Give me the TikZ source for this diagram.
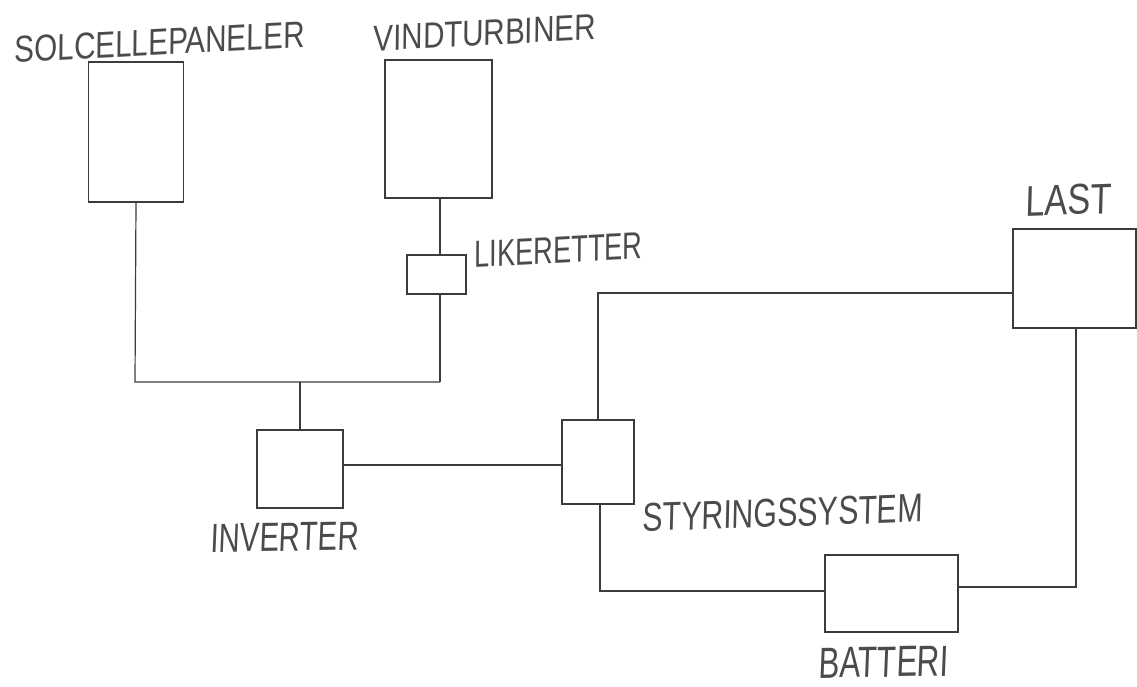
\documentclass[tikz,border=0pt]{standalone}
\usepackage{fontspec}
\setmainfont{Liberation Sans}
\newfontfamily\handfont{Liberation Sans}[FakeSlant=0.08]
\usepackage{graphicx}
\definecolor{ink}{RGB}{60,60,60}
\definecolor{pencil}{RGB}{75,75,75}
\tikzset{
  box/.style={draw=ink, line width=1.4pt, rectangle, inner sep=0pt},
  wire/.style={draw=ink, line width=1.2pt},
  lbl/.style={text=pencil, inner sep=0pt, font=\handfont}
}
\newcommand{\hw}[3]{\resizebox{#1pt}{#2pt}{#3}}
\begin{document}
\begin{tikzpicture}[x=1pt,y=-1pt]
\useasboundingbox[fill=white] (0,0) rectangle (1137,686);
% boxes
\node[box, minimum width=95pt, minimum height=140pt] (sol) at (136,132) {};
\node[box, minimum width=107pt, minimum height=138pt] (vind) at (438.5,129) {};
\node[box, minimum width=59pt, minimum height=39pt] (lik) at (436.5,274.5) {};
\node[box, minimum width=86pt, minimum height=78pt] (inv) at (300,469) {};
\node[box, minimum width=72pt, minimum height=84pt] (sty) at (598,462) {};
\node[box, minimum width=123pt, minimum height=99pt] (last) at (1074.5,278.5) {};
\node[box, minimum width=133pt, minimum height=77pt] (bat) at (891.5,593.5) {};
% labels
\node[lbl, rotate=3] (tsol) at (159,42) {\hw{290}{26}{SOLCELLEPANELER}};
\node[lbl, rotate=3] (tvind) at (484,33) {\hw{222}{25}{VINDTURBINER}};
\node[lbl, rotate=3] (tlik) at (558,250) {\hw{168}{26}{LIKERETTER}};
\node[lbl, rotate=1] (tinv) at (284,537) {\hw{148}{28}{INVERTER}};
\node[lbl, rotate=2] (tsty) at (782,513) {\hw{280}{28}{STYRINGSSYSTEM}};
\node[lbl, rotate=2] (tlast) at (1068,200) {\hw{86}{30}{LAST}};
\node[lbl, rotate=1] (tbat) at (883,662) {\hw{130}{30}{BATTERI}};
% junctions
\coordinate (jl) at (135,382);
\coordinate (jm) at (300,382);
\coordinate (jr) at (440,382);
\coordinate (c0) at (440,0);
\coordinate (ci) at (0,465);
\coordinate (c1) at (598,293);
\coordinate (c2) at (600,591);
\coordinate (c3) at (1076,587);
% connectors
\draw[wire] (sol.south) -- (jl) -- (jr);
\draw[wire] (vind.south -| c0) -- (lik.north -| c0);
\draw[wire] (lik.south -| c0) -- (jr);
\draw[wire] (jm) -- (inv.north);
\draw[wire] (inv.east |- ci) -- (sty.west |- ci);
\draw[wire] (sty.north) -- (c1) -- (c1 -| last.west);
\draw[wire] (sty.south -| c2) -- (c2) -- (c2 -| bat.west);
\draw[wire] (bat.east |- c3) -- (c3) -- (c3 |- last.south);
\end{tikzpicture}
\end{document}
